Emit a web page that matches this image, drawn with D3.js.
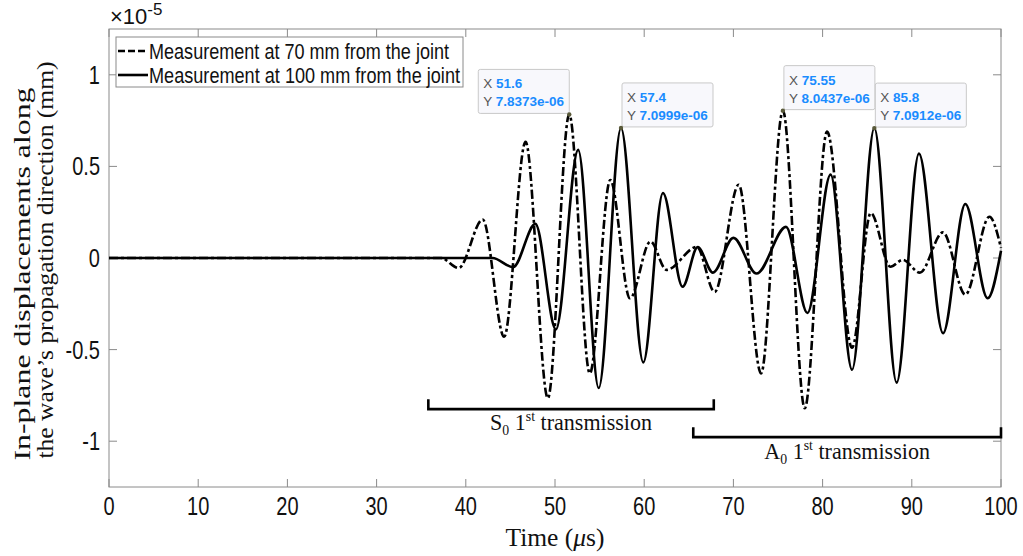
<!DOCTYPE html>
<html>
<head>
<meta charset="utf-8">
<script src="https://cdn.jsdelivr.net/npm/d3@7"></script>
<style>
  body { margin: 0; background: #fff; }
  svg { display: block; }
</style>
</head>
<body>
<svg id="chart"></svg>
<script>
// time in microseconds, displacement in units of 1e-5 mm (extrema)
const t70 = [0, 37.2, 39.2, 41.9, 44.3, 46.7, 49.2, 51.6, 53.9, 56.2, 58.4, 60.7, 62.5, 65.9, 67.9, 70.6, 73.1, 75.55, 78.0, 80.5, 83.3, 85.4, 87.6, 89.0, 90.9, 93.5, 96.0, 98.7, 100];
const v70 = [0, 0, -0.055, 0.21, -0.43, 0.634, -0.765, 0.78373, -0.63, 0.426, -0.22, 0.09, -0.065, 0.06, -0.185, 0.40, -0.63, 0.80437, -0.82, 0.69, -0.49, 0.245, -0.048, -0.01, -0.08, 0.14, -0.20, 0.225, 0.055];

const t100 = [0, 43.0, 45.3, 47.8, 50.1, 52.6, 54.9, 57.4, 59.9, 62.1, 64.3, 66.0, 67.7, 70.0, 72.6, 75.9, 78.3, 80.9, 83.3, 85.8, 88.3, 90.8, 93.5, 96.0, 98.5, 100];
const v100 = [0, 0, -0.05, 0.186, -0.39, 0.59, -0.71, 0.70999, -0.57, 0.355, -0.157, 0.06, -0.08, 0.11, -0.085, 0.17, -0.30, 0.455, -0.61, 0.70912, -0.68, 0.57, -0.41, 0.295, -0.22, 0.04];

const seriesNames = ["Measurement at 70 mm from the joint", "Measurement at 100 mm from the joint"];

const xTicks = [0, 10, 20, 30, 40, 50, 60, 70, 80, 90, 100];
const yTicks = [-1, -0.5, 0, 0.5, 1];

// data tips
const tipX = [51.6, 57.4, 75.55, 85.8];
const tipY = [0.78373, 0.70999, 0.80437, 0.70912];
const tipXText = ["51.6", "57.4", "75.55", "85.8"];
const tipYText = ["7.8373e-06", "7.0999e-06", "8.0437e-06", "7.0912e-06"];
const tipSide = ["left", "right", "right", "right"];

// wave-packet brackets: [start, end] in µs
const s0Span = [35.8, 67.8];
const a0Span = [65.5, 100];

const W = 1023, H = 556;
const m = { left: 109, right: 22, top: 29, bottom: 69 };

const svg = d3.select("#chart").attr("width", W).attr("height", H);
svg.append("rect").attr("width", W).attr("height", H).attr("fill", "#fff");

const x = d3.scaleLinear().domain([0, 100]).range([m.left, W - m.right]);
const y = d3.scaleLinear().domain([-1.25, 1.25]).range([H - m.bottom, m.top]);

const axisColor = "#8a8a8a";
const sans = "Liberation Sans, Arial, sans-serif";
const serif = "Liberation Serif, Times New Roman, serif";

// text squeezed horizontally like the reference raster
function sText(g, px, py, str, size, k, anchor, family) {
    return g.append("text")
        .attr("transform", `translate(${px},${py}) scale(${k},1)`)
        .attr("text-anchor", anchor)
        .style("font-family", family)
        .style("font-size", size + "px")
        .attr("fill", "#111")
        .text(str);
}

// axes box + ticks (MATLAB style: inward, mirrored)
const x0 = x.range()[0], x1 = x.range()[1], y0 = y.range()[0], y1 = y.range()[1];
const ax = svg.append("g");
ax.append("rect").attr("x", x0).attr("y", y1).attr("width", x1 - x0).attr("height", y0 - y1)
    .attr("fill", "none").attr("stroke", axisColor);

xTicks.forEach(t => {
    ax.append("line").attr("x1", x(t)).attr("x2", x(t)).attr("y1", y0).attr("y2", y0 - 8).attr("stroke", axisColor);
    ax.append("line").attr("x1", x(t)).attr("x2", x(t)).attr("y1", y1).attr("y2", y1 + 8).attr("stroke", axisColor);
    sText(ax, x(t), y0 + 28, String(t), 25, 0.8, "middle", sans);
});
yTicks.forEach(v => {
    ax.append("line").attr("x1", x0).attr("x2", x0 + 8).attr("y1", y(v)).attr("y2", y(v)).attr("stroke", axisColor);
    ax.append("line").attr("x1", x1).attr("x2", x1 - 8).attr("y1", y(v)).attr("y2", y(v)).attr("stroke", axisColor);
    sText(ax, x0 - 9, y(v) + 9, String(v), 25, 0.8, "end", sans);
});

// exponent label
const ex = ax.append("text").attr("transform", `translate(${x0 + 1},24)`)
    .style("font-family", sans).style("font-size", "22px").attr("fill", "#111");
ex.append("tspan").text("\u00d710");
ex.append("tspan").attr("dy", -9).style("font-size", "17px").text("-5");

// axis labels
svg.append("text")
    .attr("transform", `translate(${x((0 + 100) / 2)},546)`)
    .attr("text-anchor", "middle")
    .attr("textLength", 99).attr("lengthAdjust", "spacingAndGlyphs")
    .style("font-family", serif).style("font-size", "26px").attr("fill", "#111")
    .call(t => {
        t.append("tspan").text("Time (");
        t.append("tspan").style("font-style", "italic").text("\u03bc");
        t.append("tspan").text("s)");
    });

[["In-plane displacements along", 30, 274, 373], ["the wave\u2019s propagation direction (mm)", 53, 260, 397]]
    .forEach(([str, px, py, len]) => {
        svg.append("text")
            .attr("transform", `translate(${px},${py}) rotate(-90)`)
            .attr("text-anchor", "middle")
            .attr("textLength", len).attr("lengthAdjust", "spacingAndGlyphs")
            .style("font-family", serif).style("font-size", "23px").attr("fill", "#111")
            .text(str);
    });

// curves
const plot = svg.append("g");
const line = d3.line().x(d => x(d[0])).y(d => y(d[1])).curve(d3.curveMonotoneX);

plot.append("path")
    .attr("d", line(t70.map((t, i) => [t, v70[i]])))
    .attr("fill", "none").attr("stroke", "#000").attr("stroke-width", 2.6)
    .attr("stroke-dasharray", "9,3,3,3");

plot.append("path")
    .attr("d", line(t100.map((t, i) => [t, v100[i]])))
    .attr("fill", "none").attr("stroke", "#000").attr("stroke-width", 2.6);

// brackets + labels
function bracket(span, yv, label, labelY) {
    const g = svg.append("g");
    const yb = y(yv);
    g.append("path")
        .attr("d", `M${x(span[0])},${yb - 10}V${yb}H${x(span[1])}V${yb - 10}`)
        .attr("fill", "none").attr("stroke", "#000").attr("stroke-width", 2.6);
    const t = g.append("text")
        .attr("transform", `translate(${(x(span[0]) + x(span[1])) / 2},${labelY}) scale(0.92,1)`)
        .attr("text-anchor", "middle")
        .style("font-family", serif).style("font-size", "24px").attr("fill", "#111");
    t.append("tspan").text(label);
    t.append("tspan").attr("dy", 5).style("font-size", "15px").text("0");
    t.append("tspan").attr("dy", -5).text(" 1");
    t.append("tspan").attr("dy", -9).style("font-size", "15px").text("st");
    t.append("tspan").attr("dy", 9).text(" transmission");
}
bracket(s0Span, -0.825, "S", 430);
bracket(a0Span, -0.978, "A", 459);

// legend
const lg = svg.append("g");
lg.append("rect").attr("x", 116).attr("y", 37).attr("width", 347).attr("height", 50)
    .attr("fill", "#fff").attr("stroke", "#8a8a8a");
const legendLen = [300, 311];
seriesNames.forEach((name, i) => {
    const cy = 51 + i * 24;
    lg.append("line").attr("x1", 118).attr("x2", 148).attr("y1", cy).attr("y2", cy)
        .attr("stroke", "#000").attr("stroke-width", 2.6)
        .attr("stroke-dasharray", i === 0 ? "7,3" : null);
    sText(lg, 149, cy + 8, name, 22, 0.78, "start", sans)
        .attr("textLength", legendLen[i] / 0.78).attr("lengthAdjust", "spacingAndGlyphs");
});

// data tips
const tips = svg.append("g");
tipX.forEach((tx, i) => {
    const px = x(tx), py = y(tipY[i]);
    const bw = 91, bh = 44;
    const bx = tipSide[i] === "left" ? px - bw : px + 1;
    const by = py - bh - 1;
    tips.append("rect").attr("x", bx).attr("y", by).attr("width", bw).attr("height", bh)
        .attr("rx", 2).attr("fill", "#f8f8fc").attr("stroke", "#c9c9c9");
    [["X", tipXText[i], 19], ["Y", tipYText[i], 37]].forEach(([k, v, dy]) => {
        const t = tips.append("text").attr("x", bx + 5).attr("y", by + dy)
            .style("font-family", sans).style("font-size", "13.5px");
        t.append("tspan").attr("fill", "#555").text(k + " ");
        t.append("tspan").attr("fill", "#1a8cff").style("font-weight", "bold").text(v);
    });
    tips.append("circle").attr("cx", px).attr("cy", py).attr("r", 2.2).attr("fill", "#5a5a3a");
});
</script>
</body>
</html>
